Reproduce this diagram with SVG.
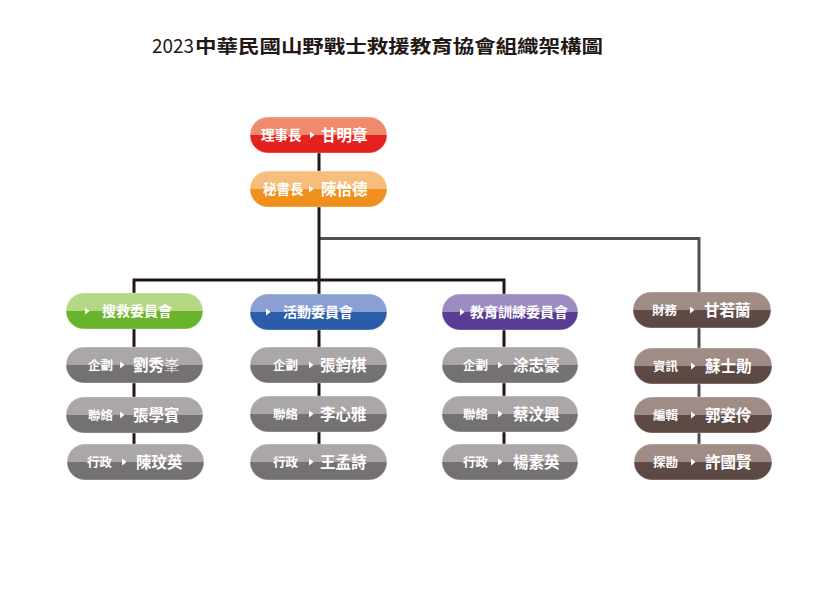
<svg xmlns="http://www.w3.org/2000/svg" width="818" height="614" viewBox="0 0 818 614">
<defs>
<linearGradient id="gRed" x1="0" y1="0" x2="0" y2="1"><stop offset="0" stop-color="#ef8c6c"/><stop offset="0.5" stop-color="#ee8a6b"/><stop offset="0.5" stop-color="#e42320"/><stop offset="1" stop-color="#e21f1c"/></linearGradient>
<linearGradient id="gOrange" x1="0" y1="0" x2="0" y2="1"><stop offset="0" stop-color="#f7be7c"/><stop offset="0.5" stop-color="#f6bc7a"/><stop offset="0.5" stop-color="#f0921e"/><stop offset="1" stop-color="#ef8f1b"/></linearGradient>
<linearGradient id="gGreen" x1="0" y1="0" x2="0" y2="1"><stop offset="0" stop-color="#b4d884"/><stop offset="0.5" stop-color="#b3d782"/><stop offset="0.5" stop-color="#6bb52e"/><stop offset="1" stop-color="#68b22b"/></linearGradient>
<linearGradient id="gBlue" x1="0" y1="0" x2="0" y2="1"><stop offset="0" stop-color="#8ca1d2"/><stop offset="0.5" stop-color="#8a9fd1"/><stop offset="0.5" stop-color="#2b5fab"/><stop offset="1" stop-color="#285ca8"/></linearGradient>
<linearGradient id="gPurple" x1="0" y1="0" x2="0" y2="1"><stop offset="0" stop-color="#9e8dc3"/><stop offset="0.5" stop-color="#9c8bc1"/><stop offset="0.5" stop-color="#5b3d95"/><stop offset="1" stop-color="#583a92"/></linearGradient>
<linearGradient id="gBrown" x1="0" y1="0" x2="0" y2="1"><stop offset="0" stop-color="#a08d87"/><stop offset="0.5" stop-color="#9e8b85"/><stop offset="0.5" stop-color="#5f4b46"/><stop offset="1" stop-color="#5c4843"/></linearGradient>
<linearGradient id="gGray" x1="0" y1="0" x2="0" y2="1"><stop offset="0" stop-color="#aca7a8"/><stop offset="0.5" stop-color="#aaa5a6"/><stop offset="0.5" stop-color="#767274"/><stop offset="1" stop-color="#737071"/></linearGradient>
</defs>
<style>
.box{stroke:#ffffff;stroke-opacity:0.35;stroke-width:1}
.lbl{font-family:"Noto Sans CJK TC","Noto Sans CJK SC",sans-serif;font-size:12.5px;font-weight:700;fill:#ffffff}
.lbl3{font-family:"Noto Sans CJK TC","Noto Sans CJK SC",sans-serif;font-size:13.5px;font-weight:700;fill:#ffffff}
.nm{font-family:"Noto Sans CJK TC","Noto Sans CJK SC",sans-serif;font-size:15.5px;font-weight:700;fill:#ffffff}
.hd{font-family:"Noto Sans CJK TC","Noto Sans CJK SC",sans-serif;font-size:14px;font-weight:700;fill:#ffffff}
.tri{fill:#ffffff}
.ln{fill:none;stroke:#231815;stroke-width:3}
.ln2{fill:none;stroke:#505050;stroke-width:3}
.title{font-family:"Noto Sans CJK TC","Noto Sans CJK SC",sans-serif;fill:#231815}
</style>
<rect width="818" height="614" fill="#ffffff"/>
<g id="title">
<text class="title" x="152" y="53" font-size="19" font-weight="400" textLength="42" lengthAdjust="spacingAndGlyphs">2023</text>
<text class="title" x="195" y="52.5" font-size="18" font-weight="700" textLength="408" lengthAdjust="spacingAndGlyphs">中華民國山野戰士救援教育協會組織架構圖</text>
</g>
<g id="connectors">
<path class="ln2" d="M319 238.5 H699 V462"/>
<path class="ln" d="M319 135 V462"/>
<path class="ln" d="M134 462 V280 H504 V462"/>
</g>
<g id="chairman">
<rect class="box" x="250" y="117" width="137" height="36" rx="18" fill="url(#gRed)"/>
<text class="lbl3" x="261" y="140.2">理事長</text>
<polygon class="tri" points="310,131.5 314.5,135 310,138.5"/>
<text class="nm" x="321" y="140.9">甘明章</text>
</g>
<g id="secretary">
<rect class="box" x="250" y="171" width="137" height="36" rx="18" fill="url(#gOrange)"/>
<text class="lbl3" x="263" y="194.2">秘書長</text>
<polygon class="tri" points="309,185.5 313.5,189 309,192.5"/>
<text class="nm" x="321" y="194.9">陳怡德</text>
</g>
<!-- Green column -->
<g id="rescue">
<rect class="box" x="66" y="293" width="137" height="36" rx="18" fill="url(#gGreen)"/>
<polygon class="tri" points="85,307.5 89.5,311 85,314.5"/>
<text class="hd" x="102" y="316.3">搜救委員會</text>
</g>
<g id="rescue-plan">
<rect class="box" x="66" y="347" width="137" height="36" rx="18" fill="url(#gGray)"/>
<text class="lbl" x="88" y="369.8">企劃</text>
<polygon class="tri" points="120,361.5 124.5,365 120,368.5"/>
<text class="nm" x="133" y="370.9">劉秀<tspan font-weight="300">峯</tspan></text>
</g>
<g id="rescue-contact">
<rect class="box" x="66" y="397" width="137" height="36" rx="18" fill="url(#gGray)"/>
<text class="lbl" x="88" y="419.8">聯絡</text>
<polygon class="tri" points="120,411.5 124.5,415 120,418.5"/>
<text class="nm" x="133" y="420.9">張學賓</text>
</g>
<g id="rescue-admin">
<rect class="box" x="67" y="444" width="137" height="36" rx="18" fill="url(#gGray)"/>
<text class="lbl" x="87" y="466.8">行政</text>
<polygon class="tri" points="122,458.5 126.5,462 122,465.5"/>
<text class="nm" x="136" y="467.9">陳玟英</text>
</g>
<!-- Blue column -->
<g id="activity">
<rect class="box" x="250" y="294" width="137" height="36" rx="18" fill="url(#gBlue)"/>
<polygon class="tri" points="266,308.5 270.5,312 266,315.5"/>
<text class="hd" x="283" y="317.3">活動委員會</text>
</g>
<g id="activity-plan">
<rect class="box" x="250" y="347" width="137" height="36" rx="18" fill="url(#gGray)"/>
<text class="lbl" x="273" y="369.8">企劃</text>
<polygon class="tri" points="309,361.5 313.5,365 309,368.5"/>
<text class="nm" x="320" y="370.9">張鈞棋</text>
</g>
<g id="activity-contact">
<rect class="box" x="250" y="396" width="137" height="36" rx="18" fill="url(#gGray)"/>
<text class="lbl" x="273" y="418.8">聯絡</text>
<polygon class="tri" points="309,410.5 313.5,414 309,417.5"/>
<text class="nm" x="320" y="419.9">李心雅</text>
</g>
<g id="activity-admin">
<rect class="box" x="250" y="444" width="137" height="36" rx="18" fill="url(#gGray)"/>
<text class="lbl" x="273" y="466.8">行政</text>
<polygon class="tri" points="309,458.5 313.5,462 309,465.5"/>
<text class="nm" x="320" y="467.9">王孟詩</text>
</g>
<!-- Purple column -->
<g id="education">
<rect class="box" x="442" y="294" width="136" height="36" rx="18" fill="url(#gPurple)"/>
<polygon class="tri" points="460,308.5 464.5,312 460,315.5"/>
<text class="hd" x="470" y="317.3">教育訓練委員會</text>
</g>
<g id="education-plan">
<rect class="box" x="442" y="347" width="136" height="36" rx="18" fill="url(#gGray)"/>
<text class="lbl" x="463" y="369.8">企劃</text>
<polygon class="tri" points="498,361.5 502.5,365 498,368.5"/>
<text class="nm" x="513" y="370.9">涂志豪</text>
</g>
<g id="education-contact">
<rect class="box" x="442" y="396" width="136" height="36" rx="18" fill="url(#gGray)"/>
<text class="lbl" x="463" y="418.8">聯絡</text>
<polygon class="tri" points="498,410.5 502.5,414 498,417.5"/>
<text class="nm" x="513" y="419.9">蔡汶興</text>
</g>
<g id="education-admin">
<rect class="box" x="442" y="444" width="136" height="36" rx="18" fill="url(#gGray)"/>
<text class="lbl" x="463" y="466.8">行政</text>
<polygon class="tri" points="498,458.5 502.5,462 498,465.5"/>
<text class="nm" x="513" y="467.9">楊素英</text>
</g>
<!-- Brown column -->
<g id="finance">
<rect class="box" x="633" y="292" width="138" height="36" rx="18" fill="url(#gBrown)"/>
<text class="lbl" x="652" y="314.8">財務</text>
<polygon class="tri" points="690,306.5 694.5,310 690,313.5"/>
<text class="nm" x="704" y="315.9">甘若蘭</text>
</g>
<g id="info">
<rect class="box" x="634" y="348" width="138" height="36" rx="18" fill="url(#gBrown)"/>
<text class="lbl" x="653" y="370.8">資訊</text>
<polygon class="tri" points="691,362.5 695.5,366 691,369.5"/>
<text class="nm" x="705" y="371.9">蘇士勛</text>
</g>
<g id="editor">
<rect class="box" x="634" y="397" width="138" height="36" rx="18" fill="url(#gBrown)"/>
<text class="lbl" x="653" y="419.8">編輯</text>
<polygon class="tri" points="691,411.5 695.5,415 691,418.5"/>
<text class="nm" x="705" y="420.9">郭姿伶</text>
</g>
<g id="survey">
<rect class="box" x="634" y="444" width="138" height="36" rx="18" fill="url(#gBrown)"/>
<text class="lbl" x="653" y="466.8">探勘</text>
<polygon class="tri" points="691,458.5 695.5,462 691,465.5"/>
<text class="nm" x="705" y="467.9">許國賢</text>
</g>
</svg>
